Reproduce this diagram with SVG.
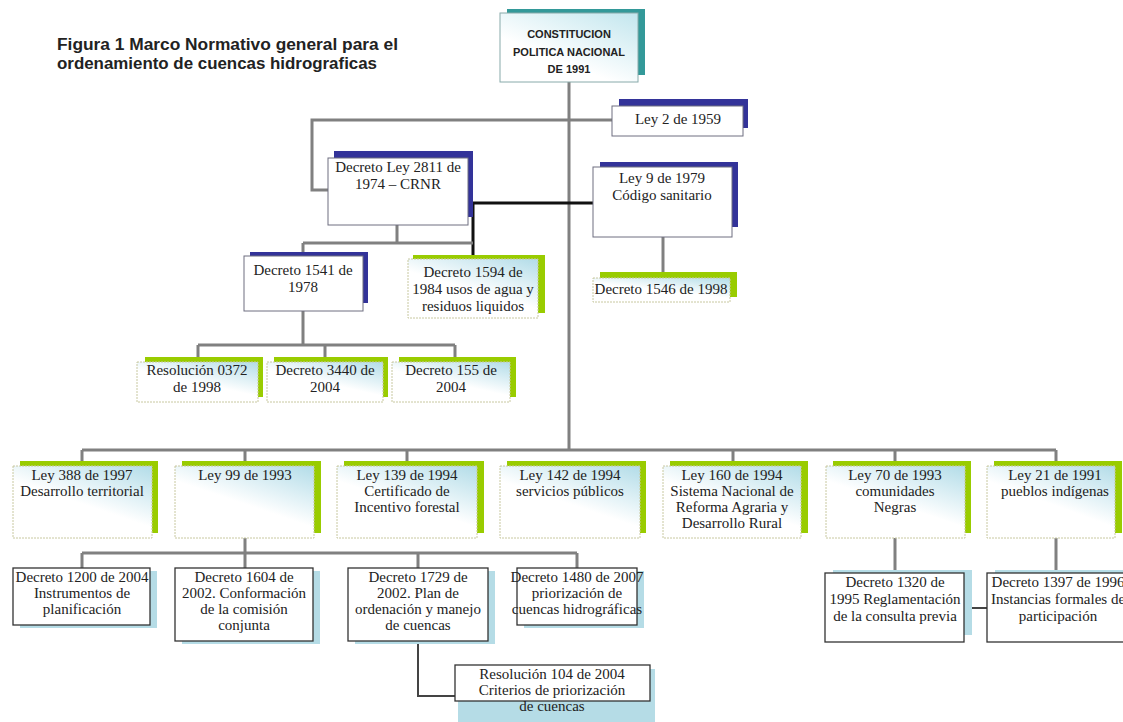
<svg xmlns="http://www.w3.org/2000/svg" width="1123" height="722" viewBox="0 0 1123 722">
<defs>
<linearGradient id="gb" x1="1" y1="0" x2="0.35" y2="1">
<stop offset="0" stop-color="#b2dce8"/>
<stop offset="0.6" stop-color="#ffffff"/>
</linearGradient>
<linearGradient id="gc" x1="1" y1="0" x2="0.2" y2="1">
<stop offset="0" stop-color="#c2e6ee"/>
<stop offset="0.7" stop-color="#ffffff"/>
</linearGradient>
</defs>
<style>
.t{font-family:"Liberation Serif","Times New Roman",serif;font-size:15px;fill:#222;text-anchor:middle}
.h{font-family:"Liberation Sans",Arial,sans-serif;font-weight:bold;fill:#222}
.sb{fill:#333399}
.sg{fill:#99cc00}
.st{fill:#339999}
.sl{fill:#b5dce6}
.mw{fill:#fff;stroke:#6e6e80;stroke-width:1}
.mg{fill:url(#gb);stroke:#c8c8a0;stroke-width:1;stroke-dasharray:2 1}
.mk{fill:#fff;stroke:#333;stroke-width:1.3}
.c{stroke:#808080;stroke-width:3;fill:none}
.cb{stroke:#111;stroke-width:3;fill:none}
.ck{stroke:#444;stroke-width:2;fill:none}
</style>
<rect width="1123" height="722" fill="#fff"/>
<g id="title">
<text class="h" x="57" y="50" font-size="16" textLength="341" lengthAdjust="spacingAndGlyphs">Figura 1 Marco Normativo general para el</text>
<text class="h" x="57" y="69" font-size="16" textLength="320" lengthAdjust="spacingAndGlyphs">ordenamiento de cuencas hidrograficas</text>
</g>
<g id="connectors">
<path class="c" d="M569 82V450"/>
<path class="c" d="M612 120H312V190H328"/>
<path class="cb" d="M473 203H593M473 203V259"/>
<path class="c" d="M397 225V243M303 243H473M303 243V252"/>
<path class="c" d="M663 237V272"/>
<path class="c" d="M303 311V345M198 345H455M198 345V357M325 345V357M455 345V357"/>
<path class="c" d="M82 450H1056M82 450V461M245 450V461M407 450V461M733 450V461M895 450V461M1056 450V461"/>
<path class="c" d="M245 538V553M82 553H577M82 553V568M245 553V568M418 553V568M577 553V568"/>
<path class="ck" d="M418 641V696H455"/>
<path class="c" d="M895 538V573M1056 538V573"/>
<path class="ck" d="M964 608H987"/>
</g>
<g id="n-constitucion">
<rect class="st" x="507" y="9" width="138" height="66"/>
<rect x="500" y="13" width="138" height="69" fill="url(#gc)" stroke="#8aa" stroke-width="1"/>
<text class="h" font-size="11" text-anchor="middle" x="569" y="38">CONSTITUCION</text>
<text class="h" font-size="11" text-anchor="middle" x="569" y="56">POLITICA NACIONAL</text>
<text class="h" font-size="11" text-anchor="middle" x="569" y="73">DE 1991</text>
</g>
<g id="n-ley2">
<rect class="sb" x="619" y="99" width="129" height="29"/>
<rect class="mw" x="612" y="106" width="131" height="30"/>
<text class="t" x="678" y="124">Ley 2 de 1959</text>
</g>
<g id="n-dl2811">
<rect class="sb" x="334" y="151" width="139" height="66"/>
<rect class="mw" x="328" y="158" width="140" height="67"/>
<text class="t" x="398" y="172">Decreto Ley 2811 de</text>
<text class="t" x="398" y="189">1974 – CRNR</text>
</g>
<g id="n-ley9">
<rect class="sb" x="600" y="162" width="138" height="65"/>
<rect class="mw" x="593" y="167" width="139" height="70"/>
<text class="t" x="662" y="183">Ley 9 de 1979</text>
<text class="t" x="662" y="200">Código sanitario</text>
</g>
<g id="n-d1546">
<rect class="sg" x="600" y="272" width="137" height="25"/>
<rect class="mg" x="593" y="278" width="137" height="24"/>
<text class="t" x="661" y="294">Decreto 1546 de 1998</text>
</g>
<g id="n-d1541">
<rect class="sb" x="250" y="252" width="118" height="51"/>
<rect class="mw" x="244" y="256" width="119" height="55"/>
<text class="t" x="303" y="275">Decreto 1541 de</text>
<text class="t" x="303" y="292">1978</text>
</g>
<g id="n-d1594">
<rect class="sg" x="413" y="255" width="132" height="58"/>
<rect class="mg" x="408" y="259" width="130" height="59"/>
<text class="t" x="473" y="277">Decreto 1594 de</text>
<text class="t" x="473" y="294">1984 usos de agua y</text>
<text class="t" x="473" y="311">residuos liquidos</text>
</g>
<g id="n-r0372">
<rect class="sg" x="145" y="357" width="118" height="40"/>
<rect class="mg" x="137" y="362" width="121" height="40"/>
<text class="t" x="197" y="375">Resolución 0372</text>
<text class="t" x="197" y="392">de 1998</text>
</g>
<g id="n-d3440">
<rect class="sg" x="274" y="357" width="114" height="40"/>
<rect class="mg" x="267" y="362" width="116" height="40"/>
<text class="t" x="325" y="375">Decreto 3440 de</text>
<text class="t" x="325" y="392">2004</text>
</g>
<g id="n-d155">
<rect class="sg" x="399" y="357" width="117" height="40"/>
<rect class="mg" x="392" y="362" width="118" height="40"/>
<text class="t" x="451" y="375">Decreto  155 de</text>
<text class="t" x="451" y="392">2004</text>
</g>
<g id="n-ley388">
<rect class="sg" x="20" y="461" width="138" height="72"/>
<rect class="mg" x="13" y="466" width="139" height="72"/>
<text class="t" x="82" y="480">Ley 388 de 1997</text>
<text class="t" x="82" y="496">Desarrollo territorial</text>
</g>
<g id="n-ley99">
<rect class="sg" x="182" y="461" width="139" height="72"/>
<rect class="mg" x="175" y="466" width="139" height="72"/>
<text class="t" x="245" y="480">Ley 99 de 1993</text>
</g>
<g id="n-ley139">
<rect class="sg" x="344" y="461" width="140" height="72"/>
<rect class="mg" x="337" y="466" width="140" height="72"/>
<text class="t" x="407" y="480">Ley 139 de 1994</text>
<text class="t" x="407" y="496">Certificado de</text>
<text class="t" x="407" y="512">Incentivo forestal</text>
</g>
<g id="n-ley142">
<rect class="sg" x="507" y="461" width="139" height="72"/>
<rect class="mg" x="500" y="466" width="140" height="72"/>
<text class="t" x="570" y="480">Ley 142 de 1994</text>
<text class="t" x="570" y="496">servicios públicos</text>
</g>
<g id="n-ley160">
<rect class="sg" x="670" y="461" width="138" height="72"/>
<rect class="mg" x="663" y="466" width="138" height="72"/>
<text class="t" x="732" y="480">Ley 160 de 1994</text>
<text class="t" x="732" y="496">Sistema Nacional de</text>
<text class="t" x="732" y="512">Reforma Agraria y</text>
<text class="t" x="732" y="528">Desarrollo Rural</text>
</g>
<g id="n-ley70">
<rect class="sg" x="833" y="461" width="138" height="72"/>
<rect class="mg" x="826" y="466" width="139" height="72"/>
<text class="t" x="895" y="480">Ley 70 de 1993</text>
<text class="t" x="895" y="496">comunidades</text>
<text class="t" x="895" y="512">Negras</text>
</g>
<g id="n-ley21">
<rect class="sg" x="994" y="461" width="128" height="72"/>
<rect class="mg" x="987" y="466" width="128" height="72"/>
<text class="t" x="1055" y="480">Ley 21 de 1991</text>
<text class="t" x="1055" y="496">pueblos  indígenas</text>
</g>
<g id="n-d1200">
<rect class="sl" x="20" y="571" width="137" height="57"/>
<rect class="mk" x="13" y="568" width="137" height="57"/>
<text class="t" x="82" y="582">Decreto 1200 de 2004</text>
<text class="t" x="82" y="598">Instrumentos de</text>
<text class="t" x="82" y="614">planificación</text>
</g>
<g id="n-d1604">
<rect class="sl" x="182" y="571" width="138" height="73"/>
<rect class="mk" x="175" y="568" width="138" height="73"/>
<text class="t" x="244" y="582">Decreto 1604 de</text>
<text class="t" x="244" y="598">2002. Conformación</text>
<text class="t" x="244" y="614">de la comisión</text>
<text class="t" x="244" y="630">conjunta</text>
</g>
<g id="n-d1729">
<rect class="sl" x="355" y="571" width="140" height="73"/>
<rect class="mk" x="348" y="568" width="140" height="73"/>
<text class="t" x="418" y="582">Decreto 1729 de</text>
<text class="t" x="418" y="598">2002. Plan de</text>
<text class="t" x="418" y="614">ordenación y manejo</text>
<text class="t" x="418" y="630">de cuencas</text>
</g>
<g id="n-d1480">
<rect class="sl" x="524" y="571" width="120" height="57"/>
<rect class="mk" x="517" y="568" width="120" height="57"/>
<text class="t" x="577" y="582">Decreto 1480 de 2007</text>
<text class="t" x="577" y="598">priorización de</text>
<text class="t" x="577" y="614">cuencas hidrográficas</text>
</g>
<g id="n-r104">
<rect class="sl" x="458" y="669" width="197" height="53"/>
<rect class="mk" x="455" y="665" width="195" height="36"/>
<text class="t" x="552" y="679">Resolución 104 de 2004</text>
<text class="t" x="552" y="695">Criterios de priorización</text>
<text class="t" x="552" y="711">de cuencas</text>
</g>
<g id="n-d1320">
<rect class="sl" x="833" y="570" width="139" height="65"/>
<rect class="mk" x="825" y="573" width="139" height="69"/>
<text class="t" x="895" y="587">Decreto  1320 de</text>
<text class="t" x="895" y="604">1995 Reglamentación</text>
<text class="t" x="895" y="621">de la consulta previa</text>
</g>
<g id="n-d1397">
<rect class="sl" x="995" y="570" width="140" height="65"/>
<rect class="mk" x="987" y="573" width="145" height="69"/>
<text class="t" x="1058" y="587">Decreto 1397 de 1996</text>
<text class="t" x="1058" y="604">Instancias formales de</text>
<text class="t" x="1058" y="621">participación</text>
</g>
</svg>
